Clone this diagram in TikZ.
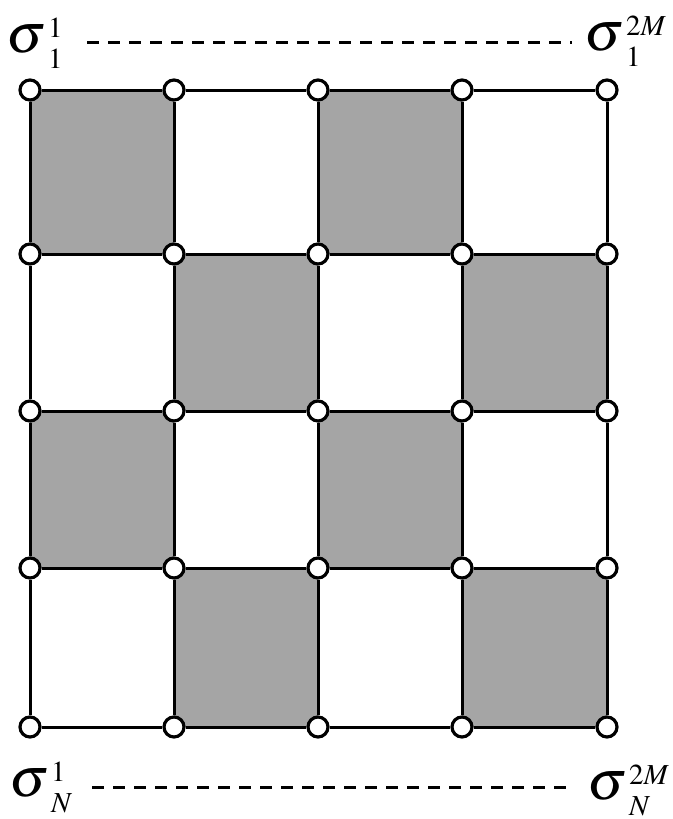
\documentclass[tikz,border=0pt]{standalone}
\usepackage{mathptmx}
\definecolor{shade}{RGB}{165,165,165}
\newcommand{\siglab}[2]{{\fontsize{56}{56}\selectfont$\sigma$}\kern2pt\makebox[0pt][l]{\raisebox{15pt}{\fontsize{29}{29}\selectfont$#1$}}\raisebox{-16pt}{\fontsize{29}{29}\selectfont$#2$}}
\begin{document}
\begin{tikzpicture}[x=1pt,y=-1pt,
  vtx/.style={circle,draw=black,fill=white,line width=3.2pt,minimum size=20pt,inner sep=0pt},
  edge/.style={line width=3pt},
  cell/.style={fill=shade},
  dotline/.style={line width=3pt,dash pattern=on 12pt off 9pt},
  lbl/.style={inner sep=0pt,anchor=base west}]
\useasboundingbox (0,0) rectangle (672,819);
\fill[white] (0,0) rectangle (672,819);
% grid coordinates
\foreach \x [count=\i] in {30,174,318,462,607}{
  \foreach \y [count=\j] in {90,254,411,568,727}{
    \coordinate (p-\i-\j) at (\x,\y);
  }
}
% shaded cells
\foreach \c/\r in {1/1,3/1,2/2,4/2,1/3,3/3,2/4,4/4}{
  \pgfmathtruncatemacro{\cc}{\c+1}
  \pgfmathtruncatemacro{\rr}{\r+1}
  \fill[cell] (p-\c-\r) rectangle (p-\cc-\rr);
}
% vertices
\foreach \i in {1,...,5}{
  \foreach \j in {1,...,5}{
    \node[vtx] (v-\i-\j) at (p-\i-\j) {};
  }
}
% edges
\foreach \i in {1,...,5}{
  \foreach \j [evaluate=\j as \jn using int(\j+1)] in {1,...,4}{
    \draw[edge] (v-\i-\j) -- (v-\i-\jn);
    \draw[edge] (v-\j-\i) -- (v-\jn-\i);
  }
}
% labels
\node[lbl] (s11) at (6,52) {\siglab{1}{1}};
\node[lbl] (s12M) at (584,50) {\siglab{2M}{1}};
\node[lbl] (sN1) at (9,796) {\siglab{1}{N}};
\node[lbl] (sN2M) at (587,799) {\siglab{2M}{N}};
\coordinate (t1) at (87,42);
\coordinate (t2) at (572,42);
\coordinate (b1) at (92,787);
\coordinate (b2) at (574,787);
\draw[dotline] (t1) -- (t2);
\draw[dotline] (b1) -- (b2);
\end{tikzpicture}
\end{document}
